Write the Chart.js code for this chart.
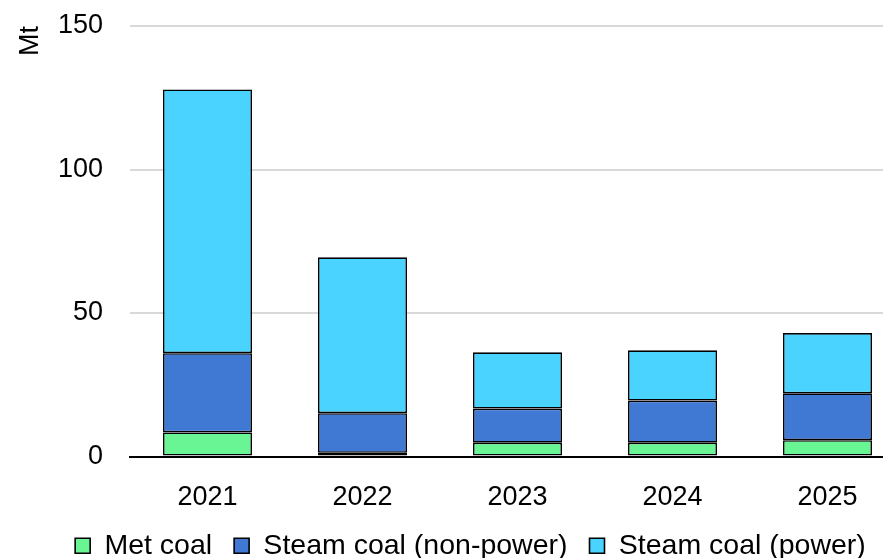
<!DOCTYPE html>
<html>
<head>
<meta charset="utf-8">
<script src="https://cdn.jsdelivr.net/npm/chart.js@4/dist/chart.umd.min.js"></script>
<style>
  html, body { margin: 0; padding: 0; background: #fff; overflow: hidden; }
  #wrap { position: relative; width: 905px; height: 570px; }
</style>
</head>
<body>
<div id="wrap"><canvas id="chart"></canvas></div>
<script>
// --- Data ---
const years = ['2021', '2022', '2023', '2024', '2025'];
const metCoal = [8.4, 1.3, 4.8, 4.8, 5.7];
const steamNonPower = [27.6, 13.8, 11.9, 14.7, 16.3];
const steamPower = [91.9, 54.3, 19.6, 17.5, 21.0];
const yTicks = [0, 50, 100, 150];

const FONT = "'Liberation Sans', Arial, sans-serif";

const mkSet = (label, data, color) => ({
    label,
    data,
    backgroundColor: color,
    borderColor: '#000',
    borderWidth: 1.6,
    borderSkipped: false,
    categoryPercentage: 1,
    barPercentage: 0.574
});

// nudge the legend a bit to the right, like the original
const legendShift = {
    id: 'legendShift',
    afterLayout: (chart) => {
        chart.legend.left += 11;
        chart.legend.right += 11;
    }
};

new Chart(document.getElementById('chart'), {
    type: 'bar',
    data: {
        labels: years,
        datasets: [
            mkSet('Met coal', metCoal, '#69f593'),
            mkSet('Steam coal (non-power)', steamNonPower, '#3f79d4'),
            mkSet('Steam coal (power)', steamPower, '#4ad3ff')
        ]
    },
    plugins: [legendShift],
    options: {
        responsive: true,
        maintainAspectRatio: false,
        animation: false,
        layout: { padding: { left: 14, top: 26, right: 0, bottom: 0 } },
        plugins: {
            tooltip: { enabled: false },
            legend: {
                position: 'bottom',
                labels: {
                    color: '#000',
                    font: { family: FONT, size: 28.5 },
                    boxWidth: 15,
                    boxHeight: 15,
                    padding: 22
                }
            }
        },
        scales: {
            x: {
                stacked: true,
                grid: { display: false, drawTicks: false },
                border: { display: true, color: '#000', width: 2 },
                ticks: { color: '#000', font: { family: FONT, size: 27 }, padding: 25 },
                afterFit: (s) => { s.height = 53; }
            },
            y: {
                stacked: true,
                min: 0,
                max: 150,
                afterBuildTicks: (s) => { s.ticks = yTicks.map(v => ({ value: v })); },
                grid: { color: '#d9d9d9', lineWidth: 2, drawTicks: false },
                border: { display: false },
                ticks: { color: '#000', font: { family: FONT, size: 27 }, padding: 27 },
                title: {
                    display: true,
                    text: 'Mt',
                    align: 'end',
                    color: '#000',
                    font: { family: FONT, size: 27 },
                    padding: { top: 0, bottom: 0 }
                },
                afterFit: (s) => {
                    s.width = 116;
                    s.paddingTop = 0;
                    s.paddingBottom = 0;
                }
            }
        }
    }
});
</script>
</body>
</html>
